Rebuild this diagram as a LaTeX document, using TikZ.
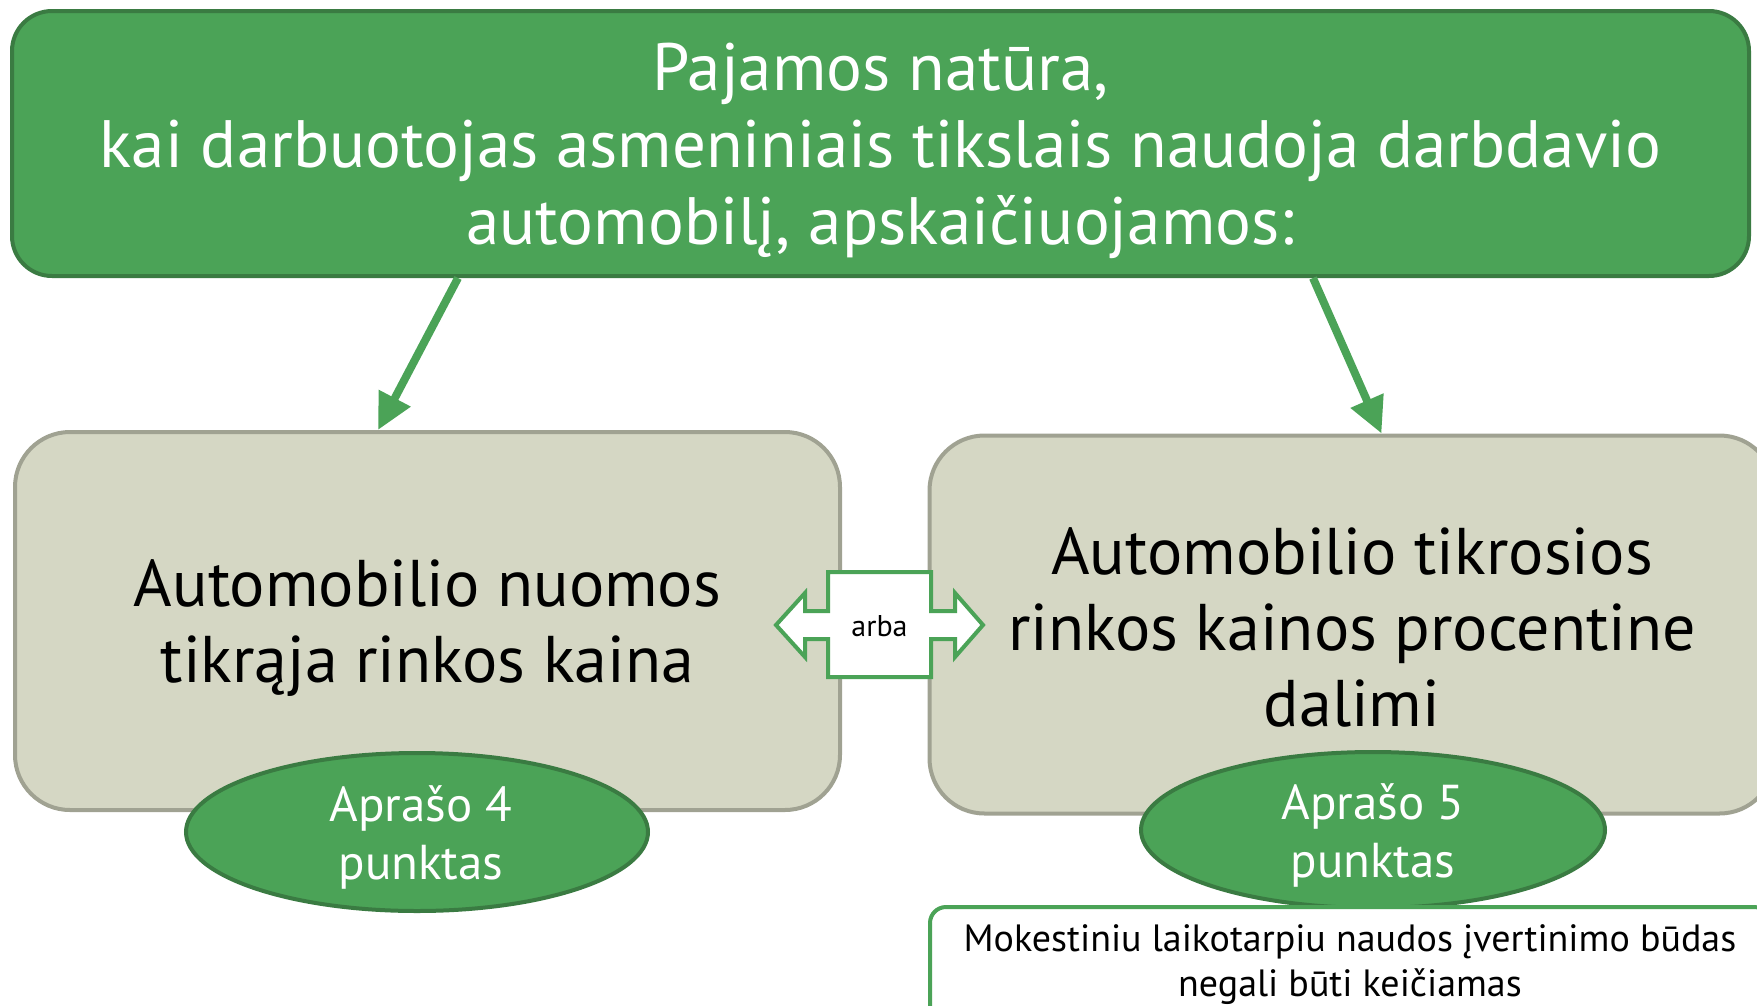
\documentclass[tikz,border=0pt]{standalone}
\usepackage{fontspec}
\setmainfont{PT Sans}
\usetikzlibrary{arrows.meta,shapes.geometric,calc}
\definecolor{gfill}{RGB}{75,163,87}
\definecolor{gdark}{RGB}{58,123,66}
\definecolor{grayfill}{RGB}{213,215,196}
\definecolor{grayline}{RGB}{160,162,146}
\tikzset{
  topbox/.style={draw=gdark, fill=gfill, line width=4pt, rounded corners=40pt, minimum width=1737pt, minimum height=265pt, inner sep=0pt},
  toptext/.style={text=white, align=center, inner sep=0pt, font=\fontsize{67}{77}\selectfont},
  graybox/.style={draw=grayline, fill=grayfill, line width=4pt, rounded corners=55pt, minimum height=378pt, inner sep=0pt},
  graytext/.style={text=black, align=center, inner sep=0pt, font=\fontsize{66}{76}\selectfont},
  oval/.style={ellipse, draw=gdark, fill=gfill, line width=4pt, inner sep=0pt},
  ovaltext/.style={text=white, align=center, inner sep=0pt, font=\fontsize{49}{58}\selectfont},
  notebox/.style={draw=gfill, fill=white, line width=4pt, rounded corners=16pt, text=black, align=center, minimum width=840pt, minimum height=116pt, inner sep=0pt, font=\fontsize{38}{45}\selectfont},
  garrow/.style={draw=gfill, line width=8pt, -{Triangle[width=34pt,length=36pt]}},
  callout/.style={draw=gfill, fill=white, line width=4pt, line join=miter},
}
\begin{document}
\begin{tikzpicture}[x=1pt,y=-1pt]
\useasboundingbox (0,0) rectangle (1757,1005);
\node[topbox] (top) at (880.5,143.5) {};
\node[toptext] (toptitle) at (880.5,151) {Pajamos natūra,\\kai darbuotojas asmeniniais tikslais naudoja darbdavio\\automobilį, apskaičiuojamos:};
\node[graybox, minimum width=825pt] (left) at (427.5,621) {};
\node[graytext] (lefttext) at (427.5,628) {Automobilio nuomos\\tikrąja rinkos kaina};
\node[graybox, minimum width=845pt] (right) at (1352,624.5) {};
\node[graytext] (righttext) at (1352,627) {Automobilio tikrosios\\rinkos kainos procentine\\dalimi};
\draw[garrow] ([xshift=448pt]top.south west) -- ([xshift=365pt]left.north west);
\draw[garrow] ([xshift=1303pt]top.south west) -- ([xshift=454pt]right.north west);
\node[oval, minimum width=462pt, minimum height=158pt] (e1) at (417,832) {};
\node[ovaltext] (e1text) at (421,837) {Aprašo 4\\punktas};
\node[oval, minimum width=464pt, minimum height=156pt] (e2) at (1373,830) {};
\node[ovaltext] (e2text) at (1373,835) {Aprašo 5\\punktas};
\draw[callout] (776,625) -- (805,593) -- (805,611) -- (828,611) -- (828,572) -- (931,572) -- (931,611) -- (955,611) -- (955,593) -- (983,625) -- (955,657) -- (955,639) -- (931,639) -- (931,677) -- (828,677) -- (828,639) -- (805,639) -- (805,657) -- cycle;
\node[font=\fontsize{30}{34}\selectfont] (arba) at (879.5,626) {arba};
\node[notebox] (note) at (1350,965) {Mokestiniu laikotarpiu naudos įvertinimo būdas\\negali būti keičiamas};
\end{tikzpicture}
\end{document}
